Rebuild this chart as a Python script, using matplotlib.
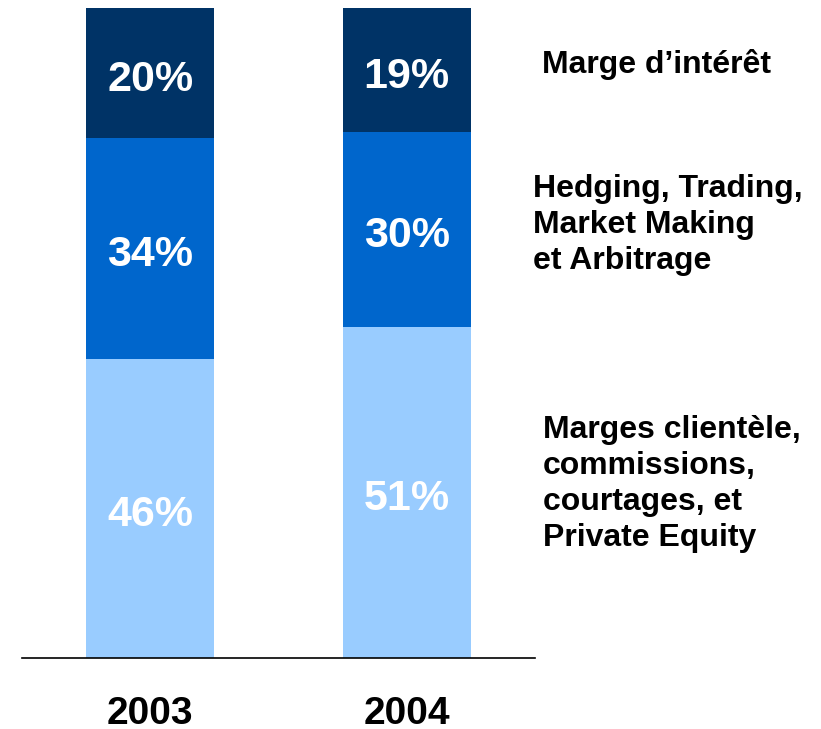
import numpy as np
import matplotlib.pyplot as plt
from matplotlib.transforms import offset_copy

plt.rcParams['font.family'] = ['Liberation Sans', 'DejaVu Sans']

years = ['2003', '2004']
clientele = [46, 51]
hedging = [34, 30]
marge = [20, 19]

series_labels = ["Marges clientèle,\ncommissions,\ncourtages, et\nPrivate Equity",
                 "Hedging, Trading,\nMarket Making\net Arbitrage",
                 "Marge d\u2019intérêt"]
colors = ['#99CCFF', '#0066CC', '#003366']

W, H = 821, 729
fig = plt.figure(figsize=(W / 100, H / 100), dpi=100)
ax = fig.add_axes([22 / W, (H - 658) / H, (535 - 22) / W, 650 / H])

# shift the percent labels a couple of pixels down
lbl_tr = offset_copy(ax.transData, fig=fig, x=0, y=-2.5, units='dots')

x = np.arange(len(years))
series = [clientele, hedging, marge]
bottom = np.zeros(len(years))
for vals, col in zip(series, colors):
    vals = np.array(vals)
    ax.bar(x, vals, width=0.5, bottom=bottom, color=col, edgecolor='none')
    for xi, b, v in zip(x, bottom, vals):
        ax.text(xi, b + v / 2, f"{v}%", ha='center', va='center_baseline',
                color='white', fontsize=31, fontweight='bold', transform=lbl_tr)
    bottom += vals

ax.set_xlim(-0.5, 1.5)
ax.set_ylim(0, 100)
for s in ['top', 'right', 'left']:
    ax.spines[s].set_visible(False)
ax.spines['bottom'].set_linewidth(1.2)
ax.set_yticks([])
ax.set_xticks(x)
ax.set_xticklabels(years, fontsize=28, fontweight='bold')
ax.tick_params(axis='x', length=0, pad=27)

# right-hand labels
fig.text(543 / W, 1 - 484 / H, series_labels[0], ha='left', va='center',
         fontsize=23, fontweight='bold', linespacing=1.27)
fig.text(533 / W, 1 - 225 / H, series_labels[1], ha='left', va='center',
         fontsize=23, fontweight='bold', linespacing=1.27)
fig.text(542 / W, 1 - 64 / H, series_labels[2], ha='left', va='center',
         fontsize=23, fontweight='bold')

fig.savefig('out.png', dpi=100)
